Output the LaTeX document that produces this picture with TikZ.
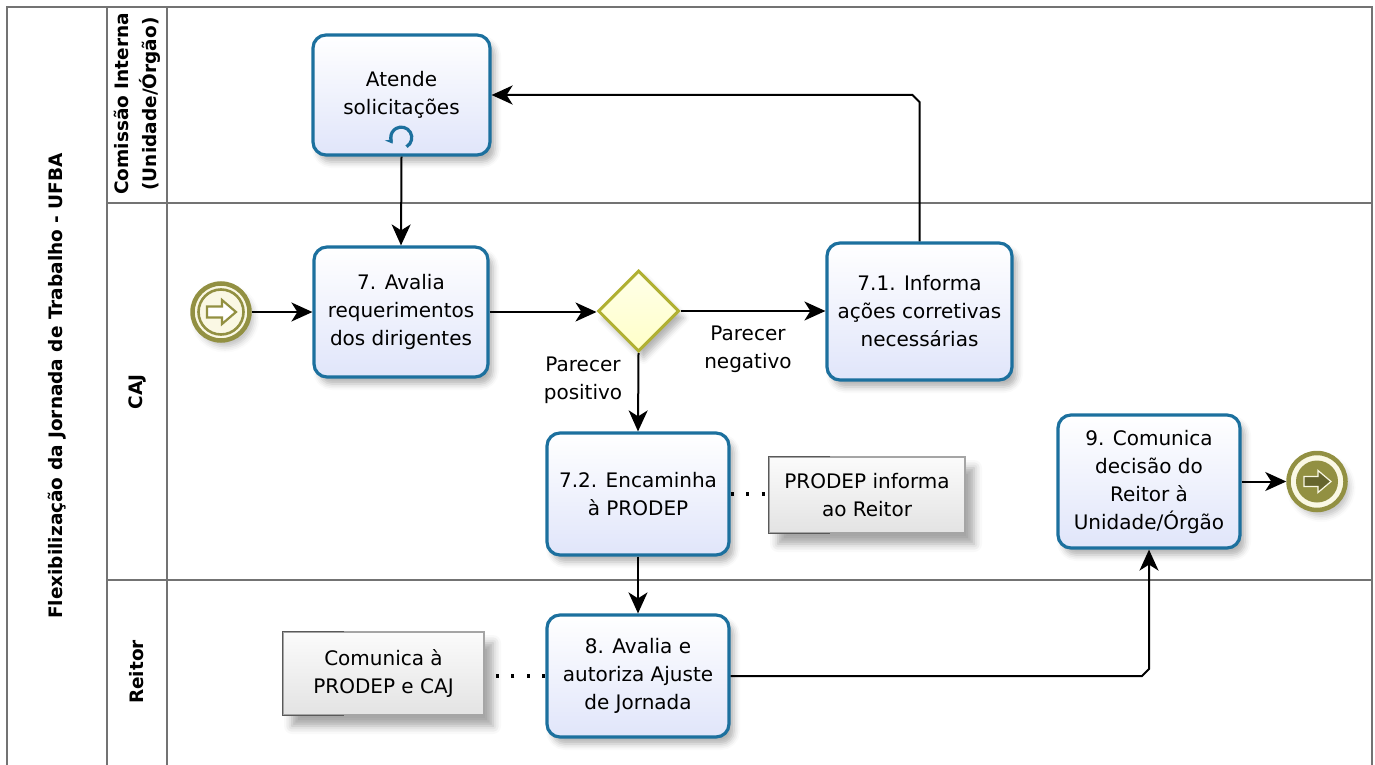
\documentclass[tikz,border=0pt]{standalone}
\usepackage{fontspec}
\setmainfont{DejaVu Sans}
\usetikzlibrary{shapes.geometric,arrows.meta,shadows.blur,calc}
\definecolor{taskborder}{RGB}{28,112,158}
\definecolor{taskfill}{RGB}{224,229,250}
\definecolor{gwborder}{RGB}{176,176,50}
\definecolor{gwfill}{RGB}{255,255,200}
\definecolor{evolive}{RGB}{146,144,66}
\definecolor{evfill}{RGB}{250,248,228}
\definecolor{lanegray}{RGB}{115,115,115}
\definecolor{anngray}{RGB}{165,165,165}
\tikzset{
  task/.style={rectangle, rounded corners=13pt, draw=taskborder, line width=3.2pt,
    top color=white, bottom color=taskfill, align=center, inner sep=2pt,
    font=\fontsize{20}{28}\selectfont,
    blur shadow={shadow xshift=5pt, shadow yshift=-7pt, shadow blur radius=6pt, shadow opacity=30}},
  gateway/.style={diamond, aspect=1, draw=gwborder, line width=3pt, inner sep=0pt,
    minimum width=81pt, minimum height=81pt, top color=gwfill!40, bottom color=gwfill,
    blur shadow={shadow xshift=5pt, shadow yshift=-7pt, shadow blur radius=6pt, shadow opacity=30}},
  event/.style={circle, draw=evolive, line width=4.5pt, fill=evfill, minimum size=57pt, inner sep=0pt,
    blur shadow={shadow xshift=4pt, shadow yshift=-6pt, shadow blur radius=6pt, shadow opacity=25}},
  annot/.style={rectangle, draw=anngray, line width=1.2pt, top color=gray!3, bottom color=gray!22,
    align=center, inner sep=2pt, font=\fontsize{20}{28}\selectfont,
    blur shadow={shadow xshift=9pt, shadow yshift=-11pt, shadow blur radius=8pt, shadow opacity=35}},
  lbl/.style={align=center, inner sep=1pt, font=\fontsize{20}{28}\selectfont},
  lanehead/.style={rotate=90, align=center, inner sep=1pt, font=\bfseries\fontsize{18.5}{28}\selectfont},
  flow/.style={draw=black, line width=2pt, -{Stealth[length=21pt, width=19pt, inset=6pt]}},
  assoc/.style={draw=black, line width=3.2pt, dash pattern=on 3pt off 12.5pt},
  lanelines/.style={draw=lanegray, line width=1.8pt}
}
\begin{document}
\begin{tikzpicture}[x=1pt,y=-1pt]
\useasboundingbox (0,0) rectangle (1375,765);
% pool and lanes
\draw[lanelines] (7,765) -- (7,7) -- (1372,7) -- (1372,765);
\draw[lanelines] (107,7) -- (107,765);
\draw[lanelines] (167,7) -- (167,765);
\draw[lanelines] (107,203) -- (1372,203);
\draw[lanelines] (107,580) -- (1372,580);
\node[lanehead] (pooltitle) at (57,386) {Flexibilização da Jornada de Trabalho - UFBA};
\node[lanehead] (lane1) at (137,104) {Comissão Interna\\(Unidade/Órgão)};
\node[lanehead] (lane2) at (137,392) {CAJ};
\node[lanehead] (lane3) at (137,672) {Reitor};

% nodes
\node[task, minimum width=177pt, minimum height=120pt] (atende) at (401.5,95) {Atende\\solicitações};
\draw[taskborder, line width=3.2pt, -{Stealth[length=7pt,width=9pt]}] (406.5,146.7) arc[start angle=60, end angle=-215, radius=10.5];

\node[task, minimum width=174pt, minimum height=130pt] (avalia) at (401,312) {7. Avalia\\requerimentos\\dos dirigentes};
\node[event] (start) at (221,312) {};
\draw[evolive, line width=2.6pt] (start.center) circle[radius=22.5];
\draw[evolive, line width=2.2pt, fill=white, line join=miter]
  ($(start.center)+(-14,-5.5)$) -- ($(start.center)+(1,-5.5)$) -- ($(start.center)+(1,-12)$) --
  ($(start.center)+(15,0)$) -- ($(start.center)+(1,12)$) -- ($(start.center)+(1,5.5)$) --
  ($(start.center)+(-14,5.5)$) -- cycle;

\node[gateway] (gw) at (638.5,311) {};
\node[task, minimum width=185pt, minimum height=137pt] (informa) at (919.5,311.5) {7.1. Informa\\ações corretivas\\necessárias};
\node[task, minimum width=182pt, minimum height=122pt] (encaminha) at (638,494) {7.2. Encaminha\\à PRODEP};
\node[annot, minimum width=196pt, minimum height=76pt] (ann1) at (867,495) {PRODEP informa\\ao Reitor};
\node[task, minimum width=182pt, minimum height=122pt] (av8) at (638,676) {8. Avalia e\\autoriza Ajuste\\de Jornada};
\node[annot, minimum width=201pt, minimum height=83pt] (ann2) at (383.5,673.5) {Comunica à\\PRODEP e CAJ};
\node[task, minimum width=182pt, minimum height=133pt] (com9) at (1149,481.5) {9. Comunica\\decisão do\\Reitor à\\Unidade/Órgão};
\node[event] (endev) at (1317,481.5) {};
\fill[evolive] (endev.center) circle[radius=21];
\draw[evfill, line width=1.2pt, fill=evolive!70!black, line join=miter]
  ($(endev.center)+(-13,-5)$) -- ($(endev.center)+(1,-5)$) -- ($(endev.center)+(1,-11)$) --
  ($(endev.center)+(14,0)$) -- ($(endev.center)+(1,11)$) -- ($(endev.center)+(1,5)$) --
  ($(endev.center)+(-13,5)$) -- cycle;

% annotation brackets
\draw[draw=gray!70!black, line width=1.2pt] ($(ann1.north west)+(62,0)$) -- (ann1.north west) -- (ann1.south west) -- ($(ann1.south west)+(62,0)$);
\draw[draw=gray!70!black, line width=1.2pt] ($(ann2.north west)+(62,0)$) -- (ann2.north west) -- (ann2.south west) -- ($(ann2.south west)+(62,0)$);

% labels
\node[lbl] (lpos) at (583,380) {Parecer\\positivo};
\node[lbl] (lneg) at (748,349) {Parecer\\negativo};

% connectors
\draw[flow] (atende.south) -- (avalia.north);
\draw[flow] (start.east) -- (start.east -| avalia.west);
\draw[flow] (avalia.east) -- (avalia.east -| gw.west);
\draw[flow] (gw.east) -- (gw.east -| informa.west);
\draw[flow] (gw.south) -- (encaminha.north);
\draw[flow] (informa.north) -- ($(informa.north |- atende.east)+(0,7)$) -- ($(informa.north |- atende.east)+(-7,0)$) -- (atende.east);
\draw[flow] (encaminha.south) -- (av8.north);
\draw[flow] (av8.east) -- ($(av8.east -| com9.south)+(-7,0)$) -- ($(av8.east -| com9.south)+(0,-7)$) -- (com9.south);
\draw[flow] (com9.east) -- (endev.west);
\draw[assoc] (encaminha.east) -- (encaminha.east -| ann1.west);
\draw[assoc] (av8.west) -- (av8.west -| ann2.east);
\end{tikzpicture}
\end{document}
